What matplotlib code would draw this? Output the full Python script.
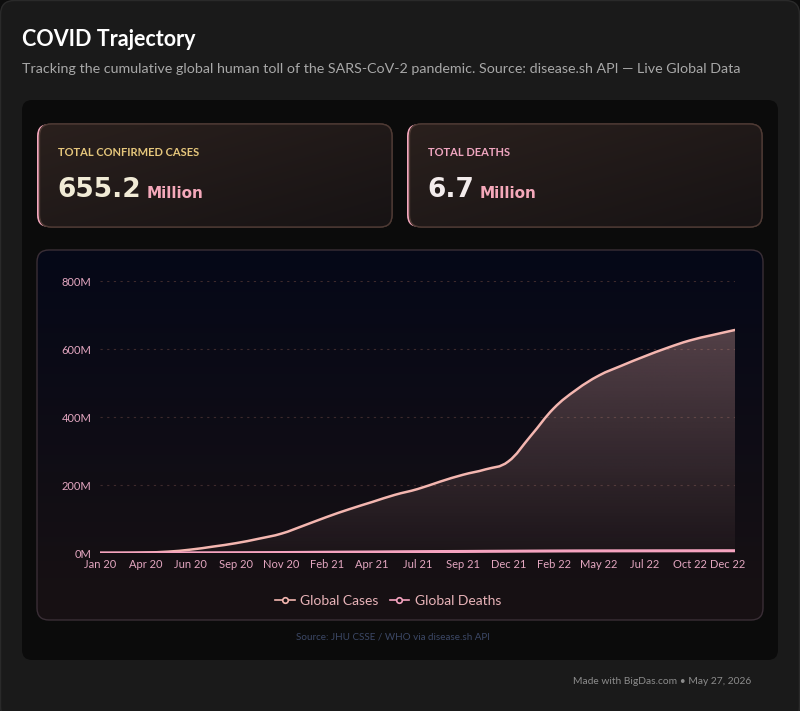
import numpy as np
import matplotlib.pyplot as plt
from matplotlib.patches import FancyBboxPatch, PathPatch
from matplotlib.path import Path
from matplotlib.lines import Line2D
from matplotlib.colors import to_rgb
from matplotlib.transforms import ScaledTranslation

plt.rcParams['font.family'] = ['Lato', 'DejaVu Sans']

# data (millions), two points per labelled tick
tick_labels = ['Jan 20', 'Apr 20', 'Jun 20', 'Sep 20', 'Nov 20', 'Feb 21', 'Apr 21', 'Jul 21',
               'Sep 21', 'Dec 21', 'Feb 22', 'May 22', 'Jul 22', 'Oct 22', 'Dec 22']
cases_m = [0, 0.3, 1.5, 4, 10, 19, 29, 42, 57, 81, 106, 129, 150, 171, 188,
           210, 230, 246, 269, 345, 425, 480, 522, 551, 578, 603, 625, 641, 656]
deaths_m = [0, 0.005, 0.08, 0.25, 0.47, 0.68, 0.88, 1.1, 1.37, 1.8, 2.27, 2.65, 3.0, 3.5, 3.95,
            4.3, 4.55, 4.95, 5.27, 5.6, 5.9, 6.15, 6.25, 6.33, 6.4, 6.48, 6.55, 6.63, 6.7]
y_ticks = [0, 200, 400, 600, 800]

CASE_COL = '#f4b6b0'
DEATH_COL = '#f5a3bf'
TICK_COL = '#e3a6c0'


def smooth_path(xs, ys, k=0.2):
    pts = np.column_stack([xs, ys]).astype(float)
    n = len(pts)
    verts = [pts[0]]
    codes = [Path.MOVETO]
    for i in range(n - 1):
        p0 = pts[max(i - 1, 0)]
        p1 = pts[i]
        p2 = pts[i + 1]
        p3 = pts[min(i + 2, n - 1)]
        c1 = p1 + (p2 - p0) * k
        c2 = p2 - (p3 - p1) * k
        c1[1] = max(c1[1], 0)
        c2[1] = max(c2[1], 0)
        verts += [c1, c2, p2]
        codes += [Path.CURVE4] * 3
    return verts, codes


def gradient(ax, extent, c_top, c_bot, clip, a_top=1.0, a_bot=1.0, diag=False, z=1):
    h = 256
    t = np.linspace(0, 1, h)[:, None]
    if diag:
        t = (np.linspace(0, 1, h)[:, None] + np.linspace(0, 1, h)[None, :]) / 2
    else:
        t = np.repeat(t, 2, axis=1)
    ct, cb = np.array(to_rgb(c_top)), np.array(to_rgb(c_bot))
    img = np.zeros(t.shape + (4,))
    img[..., :3] = ct + (cb - ct) * t[..., None]
    img[..., 3] = a_top + (a_bot - a_top) * t
    im = ax.imshow(img, extent=extent, aspect='auto', zorder=z, interpolation='bilinear')
    im.set_clip_path(clip)
    return im


fig = plt.figure(figsize=(8, 7.11), dpi=100)
fig.patch.set_facecolor('#0d0d0d')
bg = fig.add_axes([0, 0, 1, 1])
bg.set_xlim(0, 800)
bg.set_ylim(711, 0)
bg.axis('off')


def box(x, y, w, h, r, fc, ec='none', lw=0, z=1):
    p = FancyBboxPatch((x, y), w, h, boxstyle=f'round,pad=0,rounding_size={r}',
                       fc=fc, ec=ec, lw=lw, zorder=z)
    bg.add_patch(p)
    return p


# outer card and inner panel
box(0.5, 0.5, 799, 720, 14, '#1a1a1a', '#2a2a2a', 1)
box(22, 100, 756, 560, 10, '#0b0b0b', z=2)

# KPI cards
for x0, label, lcol, num, ncol in [(37, 'TOTAL CONFIRMED CASES', '#e6c77c', '655.2', '#f1ebd6'),
                                   (407, 'TOTAL DEATHS', '#f0a6c0', '6.7', '#f3ecec')]:
    box(x0, 124, 355, 103, 12, '#f4a7bd', z=3)
    card = box(x0 + 2.5, 124, 352.5, 103, 12, '#1e1816', '#4e3a34', 1, z=4)
    gradient(bg, (x0 + 2.5, x0 + 355, 227, 124), '#2a201d', '#171314', card, diag=True, z=4)
    bg.add_patch(FancyBboxPatch((x0 + 2.5, 124), 352.5, 103, boxstyle='round,pad=0,rounding_size=12',
                                fc='none', ec='#4e3a34', lw=1, zorder=5))
    bg.text(x0 + 21, 152, label, color=lcol, fontsize=8, fontweight='bold',
            va='center', ha='left', zorder=6)
    t = bg.text(x0 + 20, 190, num, color=ncol, fontsize=19, fontweight='bold',
                family='DejaVu Sans', va='center', ha='left', zorder=6)
    fig.canvas.draw()
    ext = t.get_window_extent()
    bg.text(ext.x1 + 6, 193, 'Million', color='#f4a8ba', fontsize=11, fontweight='bold',
            family='DejaVu Sans', va='center', ha='left', zorder=6)

# chart card
ccard = box(37, 250, 726, 370, 12, '#0b0c18', z=3)
gradient(bg, (37, 763, 620, 250), '#050818', '#181113', ccard, z=3)
bg.add_patch(FancyBboxPatch((37, 250), 726, 370, boxstyle='round,pad=0,rounding_size=12',
                            fc='none', ec='#3a2e36', lw=1, zorder=5))

# titles and footers
bg.text(22, 39, 'COVID Trajectory', color='white', fontsize=15.5, fontweight='bold',
        va='center', ha='left', zorder=6)
bg.text(22, 69, 'Tracking the cumulative global human toll of the SARS-CoV-2 pandemic. '
        'Source: disease.sh API \u2014 Live Global Data', color='#a8a8a8', fontsize=10.3,
        va='center', ha='left', zorder=6)
bg.text(393, 637, 'Source: JHU CSSE / WHO via disease.sh API', color='#3c4866', fontsize=7.1,
        va='center', ha='center', zorder=6)
bg.text(751, 682, 'Made with BigDas.com \u2022 May 27, 2026', color='#8c8c8c', fontsize=7.4,
        va='center', ha='right', zorder=6)

# chart
ax = fig.add_axes([100 / 800, 1 - 553 / 711, 635 / 800, 272 / 711])
ax.patch.set_alpha(0)
for s in ax.spines.values():
    s.set_visible(False)
xs = np.arange(len(cases_m))
ax.set_xlim(0, len(cases_m) - 1)
ax.set_ylim(0, 800)

for v in y_ticks[1:]:
    ax.axhline(v, color='#3e2a2c', lw=0.8, ls=(0, (2, 4)), zorder=1)

verts, codes = smooth_path(xs, cases_m)
line_path = Path(verts, codes)
area_path = Path(verts + [(xs[-1], 0), (xs[0], 0), (xs[0], 0)],
                 codes + [Path.LINETO, Path.LINETO, Path.CLOSEPOLY])
area = PathPatch(area_path, fc='none', ec='none', transform=ax.transData)
ax.add_patch(area)
gradient(ax, (0, xs[-1], 0, max(cases_m)), '#f4b6b0', '#f4b6b0', area,
         a_top=0.32, a_bot=0.04, z=2)
ax.add_patch(PathPatch(line_path, fc='none', ec=CASE_COL, lw=1.8, zorder=4,
                       capstyle='round', joinstyle='round'))

dverts, dcodes = smooth_path(xs, deaths_m)
ax.add_patch(PathPatch(Path(dverts, dcodes), fc='none', ec=DEATH_COL, lw=2.2, zorder=5,
                       capstyle='round'))

ax.set_xticks(xs[::2])
ax.set_xticklabels(tick_labels)
ax.set_yticks(y_ticks)
ax.set_yticklabels([f'{v}M' for v in y_ticks])
ax.tick_params(length=0, colors=TICK_COL, labelsize=8, pad=6)
ax.tick_params(axis='x', pad=4)
last = ax.get_xticklabels()[-1]
last.set_transform(last.get_transform() + ScaledTranslation(-7 / 100, 0, fig.dpi_scale_trans))

handles = [Line2D([], [], color=CASE_COL, lw=1.2, marker='o', ms=4, mfc='#161012', mec=CASE_COL, mew=1.2),
           Line2D([], [], color=DEATH_COL, lw=1.2, marker='o', ms=4, mfc='#161012', mec=DEATH_COL, mew=1.2)]
fig.legend(handles, ['Global Cases', 'Global Deaths'], loc='center', bbox_to_anchor=(388 / 800, 1 - 601 / 711),
           ncol=2, frameon=False, fontsize=10, labelcolor='#e8b3b8', handlelength=1.4,
           handletextpad=0.4, columnspacing=0.8)

fig.savefig('out.png', dpi=100, facecolor=fig.get_facecolor())
